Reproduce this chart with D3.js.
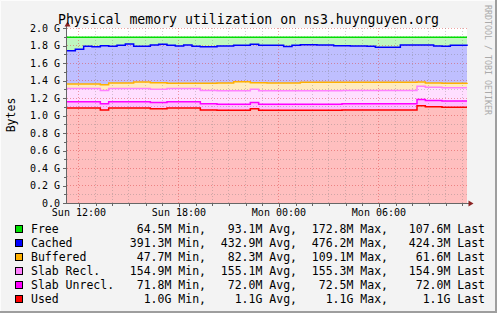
<!DOCTYPE html>
<html lang="en">
<head>
<meta charset="utf-8">
<title>Physical memory utilization</title>
<style>
  body { margin: 0; background: #f3f3f3; }
  text { font-family: "DejaVu Sans Mono", monospace; }
</style>
</head>
<body>
<div id="chart"></div>
<script src="https://cdn.jsdelivr.net/npm/d3@7"></script>
<script>
// values in G, one sample every 30 min from Sun 11:17
var used = [1.086,1.086,1.086,1.086,1.063,1.086,1.086,1.086,1.086,1.086,1.078,1.078,1.086,1.086,1.086,1.086,
            1.063,1.063,1.059,1.059,1.059,1.059,1.078,1.059,1.059,1.059,1.059,1.059,1.059,1.059,1.059,1.059,
            1.059,1.063,1.063,1.063,1.063,1.063,1.063,1.063,1.063,1.063,1.112,1.101,1.101,1.094,1.094,1.094,1.094];
var slabUnrecl = [0.071,0.071,0.071,0.071,0.071,0.071,0.071,0.071,0.071,0.071,0.071,0.071,0.071,0.071,0.071,0.071,
                  0.071,0.071,0.071,0.071,0.071,0.071,0.071,0.071,0.071,0.071,0.071,0.071,0.071,0.071,0.071,0.071,
                  0.071,0.071,0.071,0.071,0.071,0.071,0.071,0.071,0.071,0.071,0.071,0.071,0.071,0.071,0.071,0.071,0.071];
var slabRecl = [0.152,0.152,0.152,0.152,0.152,0.152,0.152,0.152,0.152,0.152,0.152,0.152,0.152,0.152,0.152,0.152,
                0.152,0.152,0.152,0.152,0.152,0.152,0.152,0.152,0.152,0.152,0.152,0.152,0.152,0.152,0.152,0.152,
                0.152,0.152,0.152,0.152,0.152,0.152,0.152,0.152,0.152,0.152,0.152,0.152,0.152,0.152,0.152,0.152,0.152];
var buffered = [0.051,0.051,0.051,0.051,0.066,0.063,0.063,0.063,0.074,0.074,0.074,0.074,0.059,0.059,0.059,0.059,
                0.082,0.082,0.089,0.089,0.104,0.104,0.074,0.093,0.089,0.089,0.089,0.089,0.097,0.097,0.097,0.097,
                0.097,0.094,0.094,0.094,0.094,0.094,0.094,0.094,0.094,0.094,0.047,0.048,0.048,0.051,0.051,0.051,0.058];
var cached = [0.381,0.397,0.431,0.426,0.446,0.419,0.431,0.446,0.408,0.408,0.431,0.439,0.434,0.426,0.438,0.423,
              0.418,0.418,0.423,0.423,0.416,0.416,0.439,0.427,0.431,0.431,0.419,0.431,0.430,0.430,0.426,0.426,
              0.418,0.418,0.415,0.415,0.411,0.400,0.400,0.400,0.426,0.426,0.424,0.434,0.423,0.423,0.434,0.434,0.418];
var free = [0.153,0.137,0.103,0.108,0.096,0.103,0.091,0.076,0.103,0.103,0.088,0.080,0.092,0.100,0.088,0.103,
            0.108,0.108,0.100,0.100,0.092,0.092,0.080,0.092,0.092,0.092,0.104,0.092,0.085,0.085,0.089,0.089,
            0.097,0.096,0.099,0.099,0.103,0.114,0.114,0.114,0.088,0.088,0.088,0.088,0.099,0.103,0.092,0.092,0.101];

var seriesNames = ["Free", "Cached", "Buffered", "Slab Recl.", "Slab Unrecl.", "Used"];
var minLabels  = ["64.5M", "391.3M", "47.7M", "154.9M", "71.8M", "1.0G"];
var avgLabels  = ["93.1M", "432.9M", "82.3M", "155.1M", "72.0M", "1.1G"];
var maxLabels  = ["172.8M", "476.2M", "109.1M", "155.3M", "72.5M", "1.1G"];
var lastLabels = ["107.6M", "424.3M", "61.6M", "154.9M", "72.0M", "1.1G"];
var yTicks = [0, 0.2, 0.4, 0.6, 0.8, 1.0, 1.2, 1.4, 1.6, 1.8, 2.0];

var lineColors = {used: "#ff0000", slabUnrecl: "#ff00ff", slabRecl: "#ff80ff", buffered: "#ffb000", cached: "#0000ff", free: "#00e000"};
var fillColors = {used: "#ffbfbf", slabUnrecl: "#ffbfff", slabRecl: "#ffdfff", buffered: "#ffebbf", cached: "#bfbfff", free: "#bff7bf"};
var legendKeys = ["free", "cached", "buffered", "slabRecl", "slabUnrecl", "used"];

var W = 497, H = 313;
var start = new Date(2014, 0, 5, 11, 17), end = new Date(2014, 0, 6, 11, 17);

var rows = used.map(function(v, i) {
  return {t: d3.timeMinute.offset(start, i * 30), used: v, slabUnrecl: slabUnrecl[i], slabRecl: slabRecl[i],
          buffered: buffered[i], cached: cached[i], free: free[i]};
});

var svg = d3.select("#chart").append("svg")
    .attr("width", W).attr("height", H);

// frame
svg.append("rect").attr("width", W).attr("height", H).attr("fill", "#f3f3f3");
svg.append("path").attr("d", "M0.5," + H + "V0.5H" + W).attr("stroke", "#fcfcfc").attr("fill", "none");
svg.append("path").attr("d", "M0," + (H - 1) + "H" + (W - 1) + "V0").attr("stroke", "#9e9e9e").attr("stroke-width", 2).attr("fill", "none");

var x = d3.scaleTime().domain([start, end]).range([67, 467]);
var y = d3.scaleLinear().domain([0, 2]).range([203, 28]);

svg.append("rect").attr("x", 67).attr("y", 28).attr("width", 400).attr("height", 175).attr("fill", "#fff");

var stack = d3.stack().keys(["used", "slabUnrecl", "slabRecl", "buffered", "cached", "free"]);
var layers = stack(rows);

var area = d3.area()
    .x(function(d) { return x(d.data.t); })
    .y0(function(d) { return y(d[0]); })
    .y1(function(d) { return y(d[1]); })
    .curve(d3.curveStepAfter);

var line = d3.line()
    .x(function(d) { return x(d.data.t); })
    .y(function(d) { return y(d[1]); })
    .curve(d3.curveStepAfter);

svg.append("g").selectAll("path").data(layers).enter().append("path")
    .attr("d", area)
    .attr("fill", function(d) { return fillColors[d.key]; });

// grid
var hours = x.ticks(d3.timeHour.every(1));
var grid = svg.append("g").attr("shape-rendering", "crispEdges").attr("stroke-dasharray", "1,2");
grid.selectAll(".hg").data(d3.range(0, 21).map(function(k) { return k / 10; })).enter().append("line")
    .attr("x1", 67).attr("x2", 467)
    .attr("y1", function(d) { return y(d); }).attr("y2", function(d) { return y(d); })
    .attr("stroke", function(d, i) { return i % 2 == 0 ? "rgba(220,70,70,0.5)" : "rgba(120,120,120,0.35)"; });
grid.selectAll(".vg").data(hours).enter().append("line")
    .attr("x1", function(d) { return x(d); }).attr("x2", function(d) { return x(d); })
    .attr("y1", 28).attr("y2", 203)
    .attr("stroke", function(d) { return d.getHours() % 6 == 0 ? "rgba(220,70,70,0.5)" : "rgba(120,120,120,0.35)"; });

svg.append("g")
  .selectAll("path").data(layers).enter().append("path")
    .attr("d", line)
    .attr("fill", "none")
    .attr("stroke-width", 1.5)
    .attr("stroke", function(d) { return lineColors[d.key]; });

// axes
var ax = svg.append("g").attr("shape-rendering", "crispEdges").attr("stroke", "#666");
ax.append("line").attr("x1", 66.5).attr("x2", 66.5).attr("y1", 204).attr("y2", 25);
ax.append("line").attr("x1", 66).attr("x2", 469).attr("y1", 203.5).attr("y2", 203.5);
ax.selectAll(".yt").data(d3.range(0, 21)).enter().append("line")
    .attr("x1", function(d) { return d % 2 == 0 ? 63 : 64; }).attr("x2", 66)
    .attr("y1", function(d) { return Math.round(y(d / 10)) + 0.5; })
    .attr("y2", function(d) { return Math.round(y(d / 10)) + 0.5; });
ax.selectAll(".xt").data(hours).enter().append("line")
    .attr("x1", function(d) { return Math.round(x(d)) + 0.5; })
    .attr("x2", function(d) { return Math.round(x(d)) + 0.5; })
    .attr("y1", 204).attr("y2", function(d) { return d.getHours() % 6 == 0 ? 207 : 206; });
svg.append("path").attr("d", "M67.5,21.5L64.5,26.5L70.5,26.5Z").attr("fill", "#8b2323");
svg.append("path").attr("d", "M473.5,203.5L468.5,200.5L468.5,206.5Z").attr("fill", "#8b2323");

// labels
svg.append("g").selectAll("text").data(yTicks).enter().append("text")
    .attr("x", 60).attr("y", function(d) { return y(d) + 3.6; })
    .attr("text-anchor", "end").attr("font-size", "10px").attr("fill", "#000")
    .text(function(d) { return d == 0 ? "0.0" : d3.format(".1f")(d) + " G"; });

svg.append("g").selectAll("text").data(hours.filter(function(d) { return d.getHours() % 6 == 0; })).enter().append("text")
    .attr("x", function(d) { return x(d); }).attr("y", 216)
    .attr("text-anchor", "middle").attr("font-size", "10px")
    .text(d3.timeFormat("%a %H:%M"));

svg.append("text").attr("x", 248.5).attr("y", 24).attr("text-anchor", "middle")
    .attr("font-size", "13.2px").text("Physical memory utilization on ns3.huynguyen.org");

svg.append("text").attr("transform", "translate(15,115) rotate(-90)").attr("text-anchor", "middle")
    .attr("font-size", "11.5px").text("Bytes");

svg.append("text").attr("transform", "translate(484.5,5) rotate(90)")
    .attr("font-size", "8.3px").attr("fill", "#aaa").text("RRDTOOL / TOBI OETIKER");

// legend
var leg = svg.append("g").selectAll("g").data(legendKeys).enter().append("g")
    .attr("transform", function(d, i) { return "translate(0," + (229 + i * 14) + ")"; });
leg.append("rect").attr("x", 15.5).attr("y", -3.5).attr("width", 7).attr("height", 7)
    .attr("fill", function(d) { return lineColors[d]; }).attr("stroke", "#000");
leg.append("text").attr("x", 31).attr("y", 4).attr("font-size", "11.5px")
    .text(function(d, i) { return seriesNames[i]; });
var cols = [[206, minLabels, " Min,"], [297, avgLabels, " Avg,"], [388, maxLabels, " Max,"], [485, lastLabels, " Last"]];
cols.forEach(function(c) {
  leg.append("text").attr("x", c[0]).attr("y", 4).attr("font-size", "11.5px").attr("text-anchor", "end")
      .text(function(d, i) { return c[1][i] + c[2]; });
});
</script>
</body>
</html>
